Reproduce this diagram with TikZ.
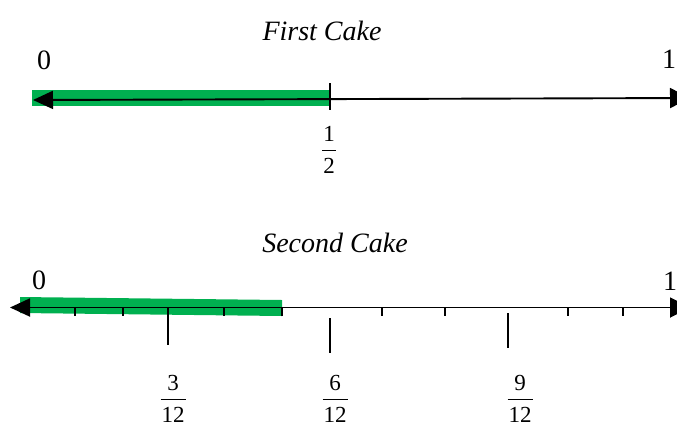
\documentclass[tikz,border=0pt]{standalone}
\usepackage{fontspec}
\setmainfont{Liberation Serif}
\usepackage{tikz}
\usetikzlibrary{arrows.meta, positioning, calc}

\definecolor{cakegreen}{RGB}{0,176,80}
\newcommand{\cakefrac}[2]{\begin{tabular}{@{\kern1pt}c@{\kern1pt}}#1\\[0pt]\hline\rule{0pt}{23pt}#2\end{tabular}}

\begin{document}
\begin{tikzpicture}[x=1pt, y=-1pt,
    numline/.style={line width=1.9pt, {Triangle[length=20pt,width=18pt]}-{Triangle[length=20pt,width=20pt]}},
    tick/.style={line width=1.8pt},
    title/.style={font=\fontsize{28}{32}\selectfont\itshape, anchor=base},
    num/.style={font=\fontsize{28}{32}\selectfont},
    frac/.style={font=\fontsize{23}{27}\selectfont, inner sep=0pt}]
\clip (0,0) rectangle (677,429);

% First cake
\node[title] (first) at (322,40) {First Cake};
\fill[cakegreen] (32,90) rectangle (329,106);
\coordinate (a0) at (33,100);
\coordinate (a1) at (690,98);
\draw[numline] (a0) -- (a1);
\draw[tick] (330,83) -- (330,110);
\node[num] (zeroA) at (44,60) {0};
\node[num] (oneA) at (669,59) {1};
\node[frac] (half) at (329,152) {\cakefrac{1}{2}};

% Second cake
\node[title] (second) at (335,252) {Second Cake};
\fill[cakegreen] (20,297) -- (282,300) -- (282,316) -- (20,313) -- cycle;
\coordinate (b0) at (10,307.5);
\coordinate (b1) at (690,307.5);
\draw[numline] (b0) -- (b1);
\foreach \x in {75,123,224,282,382,445,568,623}
    \draw[tick] (\x,308) -- (\x,316);
\draw[tick] (168,308) -- (168,345);
\draw[tick] (330,318) -- (330,353);
\draw[tick] (508,313) -- (508,348);
\node[num] (zeroB) at (39,280) {0};
\node[num] (oneB) at (670,281) {1};
\node[frac] (threeB) at (173,401) {\cakefrac{3}{12}};
\node[frac] (sixB) at (335,401) {\cakefrac{6}{12}};
\node[frac] (nineB) at (520,401) {\cakefrac{9}{12}};
\end{tikzpicture}
\end{document}
